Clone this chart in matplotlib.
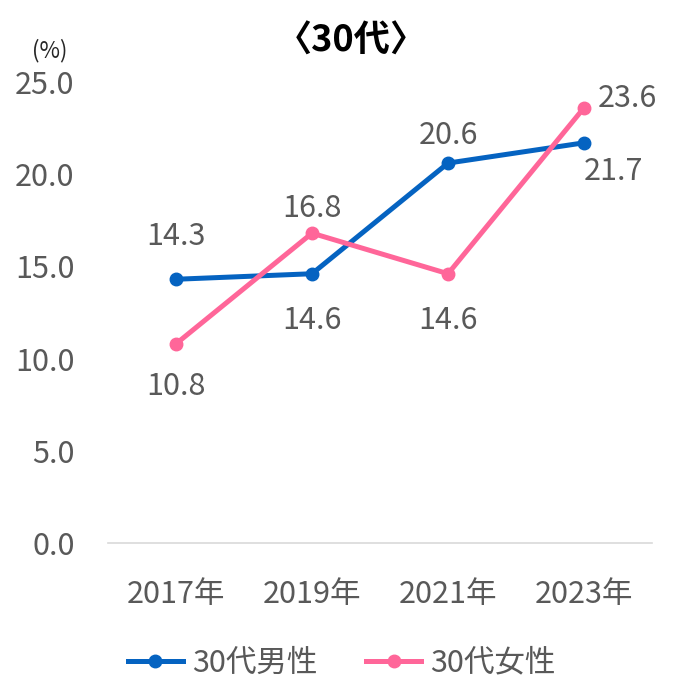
import matplotlib.pyplot as plt
import numpy as np

plt.rcParams['font.family'] = ['Noto Sans CJK JP', 'DejaVu Sans']

# data
years = ['2017年', '2019年', '2021年', '2023年']
male = [14.3, 14.6, 20.6, 21.7]
female = [10.8, 16.8, 14.6, 23.6]
yticks = [0, 5, 10, 15, 20, 25]

# label offsets in points (dx, dy, ha)
male_off = [(0, 31, 'center'), (0, -34, 'center'), (0, 20, 'center'), (21, -21, 'center')]
female_off = [(0, -31, 'center'), (0, 18, 'center'), (0, -34, 'center'), (10, 7, 'left')]

blue = '#0563C1'
pink = '#FF6699'
gray = '#595959'
fs = 22

fig = plt.figure(figsize=(6.75, 6.8), dpi=100)
ax = fig.add_axes([0.16, 0.2015, 0.806, 0.678])

x = np.arange(len(years))
ax.plot(x, male, '-o', color=blue, lw=3.6, ms=9, label='30代男性', zorder=3)
ax.plot(x, female, '-o', color=pink, lw=3.6, ms=9, label='30代女性', zorder=3)

for xi, v, (dx, dy, ha) in zip(x, male, male_off):
    ax.annotate(f'{v:.1f}', (xi, v), xytext=(dx, dy), textcoords='offset points',
                ha=ha, va='center', fontsize=fs, color=gray)
for xi, v, (dx, dy, ha) in zip(x, female, female_off):
    ax.annotate(f'{v:.1f}', (xi, v), xytext=(dx, dy), textcoords='offset points',
                ha=ha, va='center', fontsize=fs, color=gray)

ax.set_xlim(-0.5, 3.5)
ax.set_ylim(0, 25)
ax.set_xticks(x)
ax.set_xticklabels(years)
ax.set_yticks(yticks)
ax.set_yticklabels([f'{t:.1f}' for t in yticks])
ax.tick_params(axis='both', length=0, labelsize=fs, labelcolor=gray)
ax.tick_params(axis='y', pad=24)
ax.tick_params(axis='x', pad=26)

for s in ['top', 'right', 'left']:
    ax.spines[s].set_visible(False)
ax.spines['bottom'].set_color('#D9D9D9')
ax.spines['bottom'].set_linewidth(1.2)

fig.text(0.52, 0.94, '〈30代〉', ha='center', va='center', fontsize=26,
         fontweight='bold', color='black')
fig.text(0.074, 0.925, '(%)', ha='center', va='center', fontsize=16, color='#262626')

ax.legend(loc='center', bbox_to_anchor=(0.43, -0.2015 / 0.678 + 0.025 / 0.678),
          ncol=2, frameon=False, fontsize=fs, labelcolor=gray,
          handlelength=1.8, handletextpad=0.3, columnspacing=1.6)

fig.savefig('out.png', dpi=100)
